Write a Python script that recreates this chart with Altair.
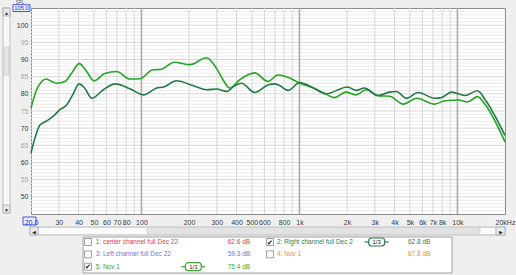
import altair as alt
import pandas as pd

# ---------------- data ----------------
nov1_freq = [20, 21.7, 23.4, 24.9, 27, 29, 32.8, 36.2, 40.4, 45, 50, 58.6, 69.7, 84.6, 97.9,
             118, 131.7, 162, 203, 258, 298, 328, 362, 419, 521, 632, 731, 869, 984,
             1229, 1435, 1660, 1970, 2280, 2640, 3210, 3720, 4530, 5530, 7180, 8330,
             10210, 11550, 13400, 15020, 20000]
nov1_db = [75.9, 81.2, 83.6, 84.3, 83.6, 83.1, 83.6, 86.1, 88.8, 86.5, 83.8, 85.9, 86.5, 84.3, 84.4,
           87.0, 87.1, 89.2, 88.5, 90.5, 87.5, 84.1, 81.7, 84.1, 86.1, 83.6, 85.5, 84.6, 83.3,
           81.7, 80.2, 78.9, 80.5, 79.7, 81.2, 79.4, 79.3, 77.0, 78.7, 77.0, 78.0,
           78.2, 77.6, 79.2, 76.8, 66.0]

right_freq = [20, 22.8, 25.3, 27.7, 30.5, 33.7, 36.5, 40.4, 44, 48.5, 57.5, 68.2, 84.6, 103,
              125, 138, 167, 212, 258, 298, 347, 390, 430, 521, 632, 696, 749, 848, 1005,
              1229, 1470, 2016, 2280, 2580, 3130, 3720, 4110, 4760, 5640, 7180, 7920, 9180,
              11150, 13400, 15020, 20000]
right_db = [62.8, 70.9, 72.2, 73.5, 75.4, 76.8, 79.5, 82.9, 81.5, 78.7, 81.2, 82.9, 81.5, 79.7,
            81.7, 82.0, 83.8, 82.4, 81.2, 81.4, 80.7, 82.4, 83.1, 80.4, 82.6, 82.9, 82.4, 81.0, 83.3,
            81.7, 80.0, 82.0, 81.0, 81.7, 79.5, 80.5, 80.7, 78.7, 80.4, 78.7, 78.9, 80.5,
            79.5, 80.9, 78.2, 67.9]

series_names = ["5: Nov 1", "2: Right channel full Dec 2"]
series_colors = ["#23a523", "#237a48"]

x_tick_values = [20, 30, 40, 50, 60, 70, 80, 100, 200, 300, 400, 500, 600, 800, 1000,
                 2000, 3000, 4000, 5000, 6000, 7000, 8000, 10000, 20000]
x_tick_labels = ["20.0", "30", "40", "50", "60", "70", "80", "100", "200", "300", "400", "500",
                 "600", "800", "1k", "2k", "3k", "4k", "5k", "6k", "7k", "8k", "10k", "20kHz"]
y_tick_values = [50, 55, 60, 65, 70, 75, 80, 85, 90, 95, 100]
y_tick_labels = ["50", "55", "60", "65", "70", "75", "80", "85", "90", "95", "100"]
y_top_label = "105.0"

grid_minor_freqs = [30, 40, 50, 60, 70, 80, 90, 200, 300, 400, 500, 600, 700, 800, 900,
                    2000, 3000, 4000, 5000, 6000, 7000, 8000, 9000]
grid_major_freqs = [100, 1000, 10000]
grid_minor_db = [v for v in range(46, 105) if v % 5 != 0]
grid_major_db = [50, 55, 60, 65, 70, 75, 80, 85, 90, 95, 100]

legend_labels = ["1: center channel full Dec 22", "2: Right channel full Dec 2",
                 "3: Left channel full Dec 22", "4: Nov 1", "5: Nov 1"]
legend_values = ["62.6 dB", "62.8 dB", "59.3 dB", "67.8 dB", "75.4 dB"]
legend_colors = ["#e04040", "#2d7d4d", "#6a78dc", "#f08a3c", "#3aa53a"]
legend_checked = [False, True, False, False, True]
legend_col = [0, 1, 0, 1, 0]
legend_row = [0, 0, 1, 1, 2]

# ---------------- tables ----------------
lines_df = pd.concat([
    pd.DataFrame({"freq": nov1_freq, "db": nov1_db, "series": series_names[0]}),
    pd.DataFrame({"freq": right_freq, "db": right_db, "series": series_names[1]}),
])
legend_df = pd.DataFrame({"label": legend_labels, "value": legend_values, "color": legend_colors,
                          "checked": legend_checked, "col": legend_col, "row": legend_row})

FONT = "Liberation Sans"


def ternary(values, labels):
    expr = "''"
    for v, l in reversed(list(zip(values, labels))):
        expr = f"datum.value == {v} ? '{l}' : ({expr})"
    return expr


def xs():
    return alt.Scale(type="log", domain=[20, 20000], nice=False)


def ys():
    return alt.Scale(domain=[45, 105], nice=False, zero=False)


# ---------------- chrome (non-data decorations) ----------------
def box(x1, x2, y1, y2, **kw):
    return alt.Chart(pd.DataFrame({"a": [0]})).mark_rect(**kw).encode(
        x=alt.value(x1), x2=alt.value(x2), y=alt.value(y1), y2=alt.value(y2))


def glyph(x, y, t, size=5, color="#333"):
    return alt.Chart(pd.DataFrame({"a": [0]})).mark_text(fontSize=size, color=color, font=FONT).encode(
        x=alt.value(x), y=alt.value(y), text=alt.value(t))


chrome = [
    # vertical scrollbar (left)
    box(-28, -21, 0, 205, fill="#f7f7f7", stroke="#b4b4b4", strokeWidth=0.8),
    box(-28, -21, 0, 8, fill="#e8e8e8", stroke="#a8a8a8", strokeWidth=0.8),
    box(-28, -21, 197, 205, fill="#e8e8e8", stroke="#a8a8a8", strokeWidth=0.8),
    box(-27, -22, 39, 67, fill="#e4e4e4", stroke="#c4c4c4", strokeWidth=0.6),
    # horizontal scrollbar (bottom)
    box(-1, 474, 219, 227, fill="#e2e2e2", stroke="#b8b8b8", strokeWidth=0.8),
    box(7, 116, 219.5, 226.5, fill="#fbfbfb", stroke="#c8c8c8", strokeWidth=0.6),
    box(449, 465, 219.5, 226.5, fill="#fbfbfb", stroke="#c8c8c8", strokeWidth=0.6),
    box(-1, 7, 219, 227, fill="#ececec", stroke="#a8a8a8", strokeWidth=0.8),
    box(465, 474, 219, 227, fill="#ececec", stroke="#a8a8a8", strokeWidth=0.8),
    # legend panel
    box(52, 421, 229, 265, fill="white", stroke="#a0a0a0", strokeWidth=1),
    glyph(-24.5, 4.5, "▲"), glyph(-24.5, 201.5, "▼"),
    glyph(3, 223.5, "◀"), glyph(469.5, 223.5, "▶"),
]
label_boxes = [
    box(-8, 5, 209, 217, fill="transparent", stroke="#3c3cf0", strokeWidth=0.9),
    box(-18, -1, -3.3, 3.5, fill="#f4f4ff", stroke="#3c3cf0", strokeWidth=0.9),
    glyph(-9.5, 0.3, y_top_label, size=5.8, color="#2020d0"),
    glyph(-11, -5.5, "SPL", size=4.5, color="#555"),
]

# ---------------- grid ----------------
vminor = alt.Chart(pd.DataFrame({"f": grid_minor_freqs})).mark_rule(color="#d6d6d6", strokeWidth=1).encode(
    x=alt.X("f:Q", scale=xs(), axis=None))
vmajor = alt.Chart(pd.DataFrame({"f": grid_major_freqs})).mark_rule(color="#ababab", strokeWidth=1.6).encode(
    x=alt.X("f:Q", scale=xs(), axis=None))
hminor = alt.Chart(pd.DataFrame({"d": grid_minor_db})).mark_rule(color="#ebebeb", strokeWidth=1).encode(
    y=alt.Y("d:Q", scale=ys(), axis=None))
hmajor = alt.Chart(pd.DataFrame({"d": grid_major_db})).mark_rule(color="#d6d6d6", strokeWidth=1).encode(
    y=alt.Y("d:Q", scale=ys(), axis=None))

# ---------------- data lines ----------------
x_label_color = {"condition": {"test": "datum.value == 20", "value": "#2020d0"}, "value": "#3a3a3a"}
y_label_color = {"condition": {"test": "datum.value % 10 == 0", "value": "#3a3a3a"}, "value": "#a8a8a8"}

lines = alt.Chart(lines_df).mark_line(interpolate="monotone", strokeWidth=1.6).encode(
    x=alt.X("freq:Q", scale=xs(), title=None,
            axis=alt.Axis(values=x_tick_values, labelExpr=ternary(x_tick_values, x_tick_labels),
                          labelOverlap=False, labelFlush=False, grid=False, ticks=False, domain=False,
                          labelFont=FONT, labelFontSize=7, labelPadding=4,
                          labelColor=x_label_color)),
    y=alt.Y("db:Q", scale=ys(), title=None,
            axis=alt.Axis(values=y_tick_values, labelExpr=ternary(y_tick_values, y_tick_labels),
                          labelOverlap=False, labelFlush=False, grid=False, ticks=False, domain=False,
                          labelFont=FONT, labelFontSize=7, labelPadding=3,
                          labelColor=y_label_color)),
    color=alt.Color("series:N", scale=alt.Scale(domain=series_names, range=series_colors), legend=None),
    detail="series:N",
)

# ---------------- legend panel (data driven) ----------------
ly = alt.Y("row:Q", scale=alt.Scale(domain=[0, 2], range=[234, 258.7]), axis=None)
ly2 = alt.Y2("row:Q")


def lx(r):
    return alt.X("col:Q", scale=alt.Scale(domain=[0, 1], range=r), axis=None)


base = alt.Chart(legend_df)
checked = base.transform_filter("datum.checked")
check_box = base.mark_rect(fill="#fafafa", stroke="#8a8a8a", strokeWidth=0.8,
                           xOffset=-3.5, x2Offset=3.5, yOffset=-3.5, y2Offset=3.5).encode(
    x=lx([57, 239]), x2=alt.X2("col:Q"), y=ly, y2=ly2)
check_mark = checked.mark_text(text="✔", fontSize=7, color="#111", dy=0.5).encode(x=lx([57, 239]), y=ly)
label_txt = base.mark_text(align="left", baseline="middle", font=FONT, fontSize=6.5).encode(
    x=lx([64.7, 246]), y=ly, text="label:N", color=alt.Color("color:N", scale=None))
value_txt = base.mark_text(align="left", baseline="middle", font=FONT, fontSize=6.5).encode(
    x=lx([196.7, 377]), y=ly, text="value:N", color=alt.Color("color:N", scale=None))
badge_line = checked.mark_rule(strokeWidth=1.2, xOffset=-12, x2Offset=12).encode(
    x=lx([162.3, 345.7]), x2=alt.X2("col:Q"), y=ly, color=alt.Color("color:N", scale=None))
badge_box = checked.mark_rect(fill="white", strokeWidth=1.2, cornerRadius=3,
                              xOffset=-8, x2Offset=8, yOffset=-4, y2Offset=4).encode(
    x=lx([162.3, 345.7]), x2=alt.X2("col:Q"), y=ly, y2=ly2, stroke=alt.Stroke("color:N", scale=None))
badge_txt = checked.mark_text(text="1/3", font=FONT, fontSize=6, color="#222").encode(
    x=lx([162.3, 345.7]), y=ly)

chart = alt.layer(
    *chrome,
    hminor, hmajor, vminor, vmajor, lines, *label_boxes,
    check_box, check_mark, label_txt, value_txt, badge_line, badge_box, badge_txt,
).resolve_scale(
    x="independent", y="independent", color="independent", stroke="independent"
).properties(
    width=474, height=206,
    autosize=alt.AutoSizeParams(type="none"),
    padding={"left": 31, "top": 8, "right": 11, "bottom": 61},
    background="#efefef",
).configure_view(fill="white", stroke="#8c8c8c", strokeWidth=1)

chart.save("out.html", embed_options={"renderer": "svg", "actions": False})
